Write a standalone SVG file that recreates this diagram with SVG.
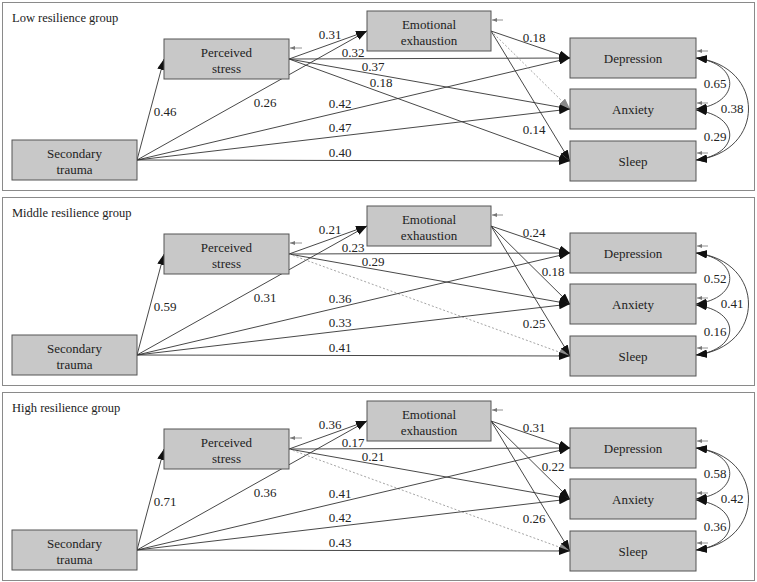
<svg xmlns="http://www.w3.org/2000/svg" width="757" height="582" viewBox="0 0 757 582">
<style>
  .panel { fill: #ffffff; stroke: #8a8a8a; stroke-width: 1; }
  .box { fill: #c8c8c8; stroke: #555555; stroke-width: 1; }
  text { font-family: "Liberation Serif", "Times New Roman", serif; fill: #222222; }
  .t { font-size: 13px; text-anchor: middle; }
  .title { font-size: 12.5px; }
  .num { font-size: 13px; text-anchor: middle; }
  .ln { fill: none; stroke: #333333; stroke-width: 0.9; marker-end: url(#ah); }
  .dash { fill: none; stroke: #9a9a9a; stroke-width: 0.9; stroke-dasharray: 2 2; marker-end: url(#ahg); }
  .res { fill: none; stroke: #777777; stroke-width: 0.8; marker-end: url(#ahr); }
  .cor { fill: none; stroke: #333333; stroke-width: 0.9; marker-start: url(#ahc); marker-end: url(#ahc); }
</style>
<defs>
  <marker id="ah" markerUnits="userSpaceOnUse" markerWidth="11" markerHeight="8" refX="11" refY="4" orient="auto">
    <path d="M0,0 L11,4 L0,8 z" fill="#111111"/>
  </marker>
  <marker id="ahg" markerUnits="userSpaceOnUse" markerWidth="11" markerHeight="8" refX="11" refY="4" orient="auto">
    <path d="M0,0 L11,4 L0,8 z" fill="#8a8a8a"/>
  </marker>
  <marker id="ahc" markerUnits="userSpaceOnUse" markerWidth="11" markerHeight="8" refX="11" refY="4" orient="auto-start-reverse">
    <path d="M0,0 L11,4 L0,8 z" fill="#111111"/>
  </marker>
  <marker id="ahr" markerUnits="userSpaceOnUse" markerWidth="5" markerHeight="4" refX="5" refY="2" orient="auto">
    <path d="M0,0 L5,2 L0,4 z" fill="#777777"/>
  </marker>
</defs>

<!-- ===== Panel 1: Low ===== -->
<g id="panel-low">
  <rect class="panel" x="2.5" y="2.5" width="752" height="188"/>
  <text class="title" x="12" y="22">Low resilience group</text>
  <g id="low-connectors">
    <path class="ln" d="M137,160 L164,59"/>
    <path class="ln" d="M137,160 L367,31"/>
    <path class="ln" d="M289,59 L367,31"/>
    <path class="ln" d="M289,59 L570,58"/>
    <path class="ln" d="M289,59 L570,109"/>
    <path class="ln" d="M289,59 L570,161"/>
    <path class="ln" d="M137,160 L570,58"/>
    <path class="ln" d="M137,160 L570,109"/>
    <path class="ln" d="M137,160 L570,161"/>
    <path class="ln" d="M491,31 L570,58"/>
    <path class="dash" d="M491,31 L570,109"/>
    <path class="ln" d="M491,31 L570,161"/>
    <path class="cor" d="M696,58 C741,64 741,103 696,109"/>
    <path class="cor" d="M696,110 C741,116 741,154 696,160"/>
    <path class="cor" d="M696,58 C766,66 766,152 696,160"/>
    <path class="res" d="M302,48 L290,48"/>
    <path class="res" d="M503,20 L492,20"/>
    <path class="res" d="M708,51 L697,51"/>
    <path class="res" d="M708,103 L697,103"/>
    <path class="res" d="M708,153 L697,153"/>
    <text class="num" x="165" y="116">0.46</text>
    <text class="num" x="330" y="39">0.31</text>
    <text class="num" x="265" y="107">0.26</text>
    <text class="num" x="353" y="57">0.32</text>
    <text class="num" x="373" y="71">0.37</text>
    <text class="num" x="381" y="87">0.18</text>
    <text class="num" x="340" y="108">0.42</text>
    <text class="num" x="340" y="132">0.47</text>
    <text class="num" x="340" y="157">0.40</text>
    <text class="num" x="534" y="42">0.18</text>
    <text class="num" x="534" y="134">0.14</text>
    <text class="num" x="715" y="88">0.65</text>
    <text class="num" x="715" y="141">0.29</text>
    <text class="num" x="732" y="113">0.38</text>
  </g>
  <g id="low-secondary-trauma"><rect class="box" x="12" y="140" width="125" height="40"/><text class="t" x="74.5" y="158">Secondary</text><text class="t" x="74.5" y="174">trauma</text></g>
  <g id="low-perceived-stress"><rect class="box" x="164" y="39" width="125" height="40"/><text class="t" x="226.5" y="57">Perceived</text><text class="t" x="226.5" y="73">stress</text></g>
  <g id="low-emotional-exhaustion"><rect class="box" x="367" y="11" width="124" height="40"/><text class="t" x="429" y="29">Emotional</text><text class="t" x="429" y="45">exhaustion</text></g>
  <g id="low-depression"><rect class="box" x="570" y="38" width="126" height="40"/><text class="t" x="633" y="63">Depression</text></g>
  <g id="low-anxiety"><rect class="box" x="570" y="89" width="126" height="40"/><text class="t" x="633" y="114">Anxiety</text></g>
  <g id="low-sleep"><rect class="box" x="570" y="141" width="126" height="40"/><text class="t" x="633" y="166">Sleep</text></g>
</g>

<!-- ===== Panel 2: Middle ===== -->
<g id="panel-middle" transform="translate(0,195)">
  <rect class="panel" x="2.5" y="2.5" width="752" height="188"/>
  <text class="title" x="12" y="22">Middle resilience group</text>
  <g id="middle-connectors">
    <path class="ln" d="M137,160 L164,59"/>
    <path class="ln" d="M137,160 L367,31"/>
    <path class="ln" d="M289,59 L367,31"/>
    <path class="ln" d="M289,59 L570,58"/>
    <path class="ln" d="M289,59 L570,109"/>
    <path class="dash" d="M289,59 L570,161"/>
    <path class="ln" d="M137,160 L570,58"/>
    <path class="ln" d="M137,160 L570,109"/>
    <path class="ln" d="M137,160 L570,161"/>
    <path class="ln" d="M491,31 L570,58"/>
    <path class="ln" d="M491,31 L570,109"/>
    <path class="ln" d="M491,31 L570,161"/>
    <path class="cor" d="M696,58 C741,64 741,103 696,109"/>
    <path class="cor" d="M696,110 C741,116 741,154 696,160"/>
    <path class="cor" d="M696,58 C766,66 766,152 696,160"/>
    <path class="res" d="M302,48 L290,48"/>
    <path class="res" d="M503,20 L492,20"/>
    <path class="res" d="M708,51 L697,51"/>
    <path class="res" d="M708,103 L697,103"/>
    <path class="res" d="M708,153 L697,153"/>
    <text class="num" x="165" y="116">0.59</text>
    <text class="num" x="330" y="39">0.21</text>
    <text class="num" x="265" y="107">0.31</text>
    <text class="num" x="353" y="57">0.23</text>
    <text class="num" x="373" y="71">0.29</text>
    <text class="num" x="340" y="108">0.36</text>
    <text class="num" x="340" y="132">0.33</text>
    <text class="num" x="340" y="157">0.41</text>
    <text class="num" x="534" y="42">0.24</text>
    <text class="num" x="553" y="81">0.18</text>
    <text class="num" x="534" y="133">0.25</text>
    <text class="num" x="715" y="88">0.52</text>
    <text class="num" x="715" y="141">0.16</text>
    <text class="num" x="732" y="113">0.41</text>
  </g>
  <g id="middle-secondary-trauma"><rect class="box" x="12" y="140" width="125" height="40"/><text class="t" x="74.5" y="158">Secondary</text><text class="t" x="74.5" y="174">trauma</text></g>
  <g id="middle-perceived-stress"><rect class="box" x="164" y="39" width="125" height="40"/><text class="t" x="226.5" y="57">Perceived</text><text class="t" x="226.5" y="73">stress</text></g>
  <g id="middle-emotional-exhaustion"><rect class="box" x="367" y="11" width="124" height="40"/><text class="t" x="429" y="29">Emotional</text><text class="t" x="429" y="45">exhaustion</text></g>
  <g id="middle-depression"><rect class="box" x="570" y="38" width="126" height="40"/><text class="t" x="633" y="63">Depression</text></g>
  <g id="middle-anxiety"><rect class="box" x="570" y="89" width="126" height="40"/><text class="t" x="633" y="114">Anxiety</text></g>
  <g id="middle-sleep"><rect class="box" x="570" y="141" width="126" height="40"/><text class="t" x="633" y="166">Sleep</text></g>
</g>

<!-- ===== Panel 3: High ===== -->
<g id="panel-high" transform="translate(0,390)">
  <rect class="panel" x="2.5" y="2.5" width="752" height="188"/>
  <text class="title" x="12" y="22">High resilience group</text>
  <g id="high-connectors">
    <path class="ln" d="M137,160 L164,59"/>
    <path class="ln" d="M137,160 L367,31"/>
    <path class="ln" d="M289,59 L367,31"/>
    <path class="ln" d="M289,59 L570,58"/>
    <path class="ln" d="M289,59 L570,109"/>
    <path class="dash" d="M289,59 L570,161"/>
    <path class="ln" d="M137,160 L570,58"/>
    <path class="ln" d="M137,160 L570,109"/>
    <path class="ln" d="M137,160 L570,161"/>
    <path class="ln" d="M491,31 L570,58"/>
    <path class="ln" d="M491,31 L570,109"/>
    <path class="ln" d="M491,31 L570,161"/>
    <path class="cor" d="M696,58 C741,64 741,103 696,109"/>
    <path class="cor" d="M696,110 C741,116 741,154 696,160"/>
    <path class="cor" d="M696,58 C766,66 766,152 696,160"/>
    <path class="res" d="M302,48 L290,48"/>
    <path class="res" d="M503,20 L492,20"/>
    <path class="res" d="M708,51 L697,51"/>
    <path class="res" d="M708,103 L697,103"/>
    <path class="res" d="M708,153 L697,153"/>
    <text class="num" x="165" y="116">0.71</text>
    <text class="num" x="330" y="39">0.36</text>
    <text class="num" x="265" y="107">0.36</text>
    <text class="num" x="353" y="57">0.17</text>
    <text class="num" x="373" y="71">0.21</text>
    <text class="num" x="340" y="108">0.41</text>
    <text class="num" x="340" y="132">0.42</text>
    <text class="num" x="340" y="157">0.43</text>
    <text class="num" x="534" y="42">0.31</text>
    <text class="num" x="553" y="81">0.22</text>
    <text class="num" x="534" y="133">0.26</text>
    <text class="num" x="715" y="88">0.58</text>
    <text class="num" x="715" y="141">0.36</text>
    <text class="num" x="732" y="113">0.42</text>
  </g>
  <g id="high-secondary-trauma"><rect class="box" x="12" y="140" width="125" height="40"/><text class="t" x="74.5" y="158">Secondary</text><text class="t" x="74.5" y="174">trauma</text></g>
  <g id="high-perceived-stress"><rect class="box" x="164" y="39" width="125" height="40"/><text class="t" x="226.5" y="57">Perceived</text><text class="t" x="226.5" y="73">stress</text></g>
  <g id="high-emotional-exhaustion"><rect class="box" x="367" y="11" width="124" height="40"/><text class="t" x="429" y="29">Emotional</text><text class="t" x="429" y="45">exhaustion</text></g>
  <g id="high-depression"><rect class="box" x="570" y="38" width="126" height="40"/><text class="t" x="633" y="63">Depression</text></g>
  <g id="high-anxiety"><rect class="box" x="570" y="89" width="126" height="40"/><text class="t" x="633" y="114">Anxiety</text></g>
  <g id="high-sleep"><rect class="box" x="570" y="141" width="126" height="40"/><text class="t" x="633" y="166">Sleep</text></g>
</g>
</svg>
